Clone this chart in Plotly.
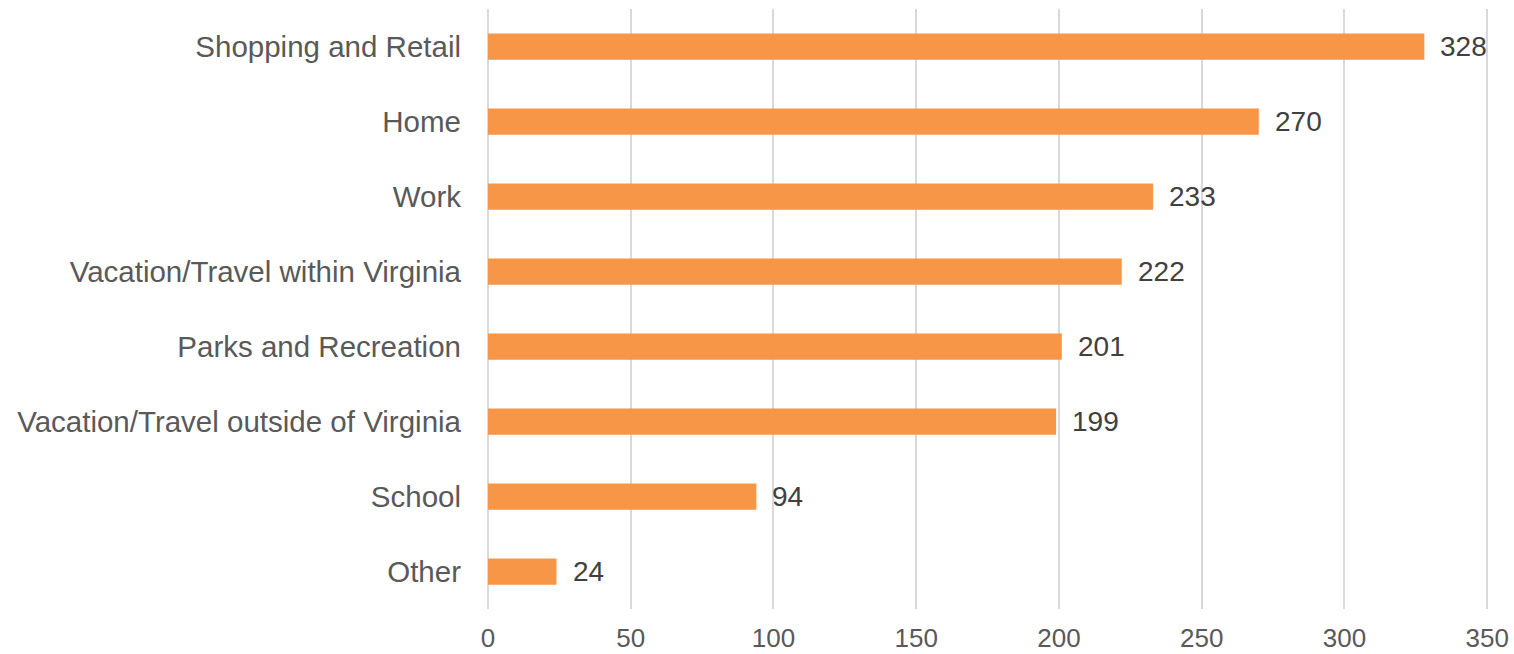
import plotly.graph_objects as go

categories = ["Shopping and Retail", "Home", "Work", "Vacation/Travel within Virginia",
              "Parks and Recreation", "Vacation/Travel outside of Virginia", "School", "Other"]
values = [328, 270, 233, 222, 201, 199, 94, 24]
tick_vals = [0, 50, 100, 150, 200, 250, 300, 350]

FONT = "Liberation Sans, Arial"

fig = go.Figure(go.Bar(
    y=categories, x=values, orientation="h",
    marker=dict(color="#F79646", line=dict(width=0)),
    hoverinfo="x+y",
))
for c, v in zip(categories, values):
    fig.add_annotation(x=v, y=c, text=str(v), showarrow=False, xanchor="left",
                       xshift=14, yanchor="middle",
                       font=dict(family=FONT, size=28, color="#404040"))

fig.update_layout(
    width=1514, height=654,
    margin=dict(l=487, r=24, t=9, b=45),
    plot_bgcolor="white", paper_bgcolor="white",
    bargap=0.65, showlegend=False,
    font=dict(family=FONT, size=26, color="#595959"),
)
fig.update_xaxes(range=[-0.35, 351], tickvals=tick_vals, showgrid=True, gridcolor="#D9D9D9",
                 gridwidth=2, zeroline=True, zerolinecolor="#D9D9D9", zerolinewidth=2,
                 showline=False, ticks="", automargin=False,
                 ticklabelstandoff=11,
                 tickfont=dict(family=FONT, size=26, color="#595959"))
fig.update_yaxes(categoryorder="array", categoryarray=categories[::-1],
                 showgrid=False, ticks="", ticklabelstandoff=25, automargin=False,
                 tickfont=dict(family=FONT, size=29.5, color="#595959"))
fig.write_html("out.html", config={"displayModeBar": False},
               post_script="document.body.style.margin='0';document.body.style.padding='0';document.body.style.overflow='hidden';")
